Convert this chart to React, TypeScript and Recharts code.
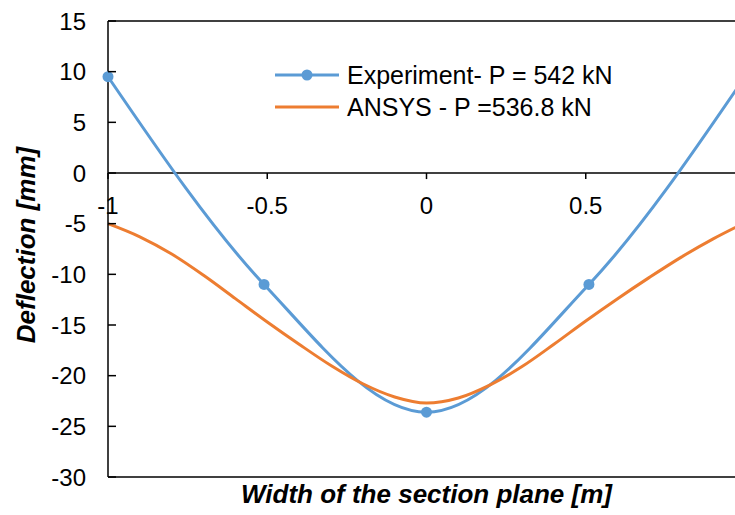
import React from 'react';
import { LineChart, Line, XAxis, YAxis, ReferenceLine, ReferenceDot, Legend } from 'recharts';

const font = '"Liberation Sans", Arial, Helvetica, sans-serif';

// Experiment (measured points)
const expX = [-1, -0.51, 0, 0.51, 1];
const expY = [9.5, -11, -23.6, -11, 9.5];

// ANSYS (FE curve)
const ansysX = [-1, -0.9, -0.8, -0.7, -0.6, -0.5, -0.4, -0.3, -0.2, -0.1, 0, 0.1, 0.2, 0.3, 0.4, 0.5, 0.6, 0.7, 0.8, 0.9, 1];
const ansysY = [-5.0, -6.3, -8.0, -10.1, -12.4, -14.7, -16.9, -19.0, -20.8, -22.1, -22.7, -22.2, -20.9, -19.1, -16.9, -14.6, -12.4, -10.3, -8.3, -6.5, -4.9];

const seriesNames = ['Experiment- P = 542 kN', 'ANSYS - P =536.8 kN'];

const xTicks = [-1, -0.5, 0, 0.5, 1];
const xTickLabels = [-1, -0.5, 0, 0.5]; // label at 1 falls outside the visible area
const yTicks = [-30, -25, -20, -15, -10, -5, 0, 5, 10, 15];

const experimentData = expX.map((x, i) => ({ x, y: expY[i] }));
const ansysData = ansysX.map((x, i) => ({ x, y: ansysY[i] }));

const BLUE = '#5B9BD5';
const ORANGE = '#ED7D31';

const YTick = (props: any) => {
  const { x, y, payload } = props;
  return (
    <g>
      <text x={x} y={y} dy="0.355em" textAnchor="end" fontSize={24} fill="#000" fontFamily={font}>
        {payload.value}
      </text>
      <line x1={x + 22} x2={x + 30} y1={y} y2={y} stroke="#000" strokeWidth={1.5} />
    </g>
  );
};

const YTitle = (props: any) => {
  const { viewBox } = props;
  const cx = viewBox.x + 26;
  const cy = viewBox.y + viewBox.height / 2 - 4;
  return (
    <text
      x={cx}
      y={cy}
      transform={`rotate(-90 ${cx} ${cy})`}
      textAnchor="middle"
      dominantBaseline="central"
      fontSize={26}
      fontWeight="bold"
      fontStyle="italic"
      fill="#000"
      fontFamily={font}
    >
      Deflection [mm]
    </text>
  );
};

const XTitle = (props: any) => {
  const { viewBox } = props;
  return (
    <text
      x={viewBox.x + viewBox.width / 2}
      y={viewBox.y + 26}
      textAnchor="middle"
      fontSize={26}
      fontWeight="bold"
      fontStyle="italic"
      fill="#000"
      fontFamily={font}
    >
      Width of the section plane [m]
    </text>
  );
};

const renderLegend = (props: any) => {
  const payload = [...(props.payload || [])].sort(
    (a: any, b: any) => seriesNames.indexOf(a.value) - seriesNames.indexOf(b.value)
  );
  return (
    <div style={{ fontFamily: font, fontSize: 25, color: '#000' }}>
      {payload.map((entry: any) => (
        <div key={entry.value} style={{ display: 'flex', alignItems: 'center', height: 32, whiteSpace: 'nowrap' }}>
          <svg width={64} height={14} style={{ marginRight: 8 }}>
            <line x1={0} y1={7} x2={64} y2={7} stroke={entry.color} strokeWidth={3} />
            {entry.type === 'line' && <circle cx={32} cy={7} r={5.5} fill={entry.color} />}
          </svg>
          <span>{entry.value}</span>
        </div>
      ))}
    </div>
  );
};

const App: React.FC = () => {
  return (
    <div style={{ position: 'fixed', left: 0, top: 0, width: 735, height: 515, overflow: 'hidden', background: '#fff' }}>
      <LineChart width={790} height={515} margin={{ top: 21, right: 45, left: 0, bottom: 0 }}>
        <XAxis
          type="number"
          dataKey="x"
          domain={[-1, 1]}
          ticks={xTicks}
          tick={false}
          tickLine={false}
          axisLine={{ stroke: '#000', strokeWidth: 1.5 }}
          height={38}
          label={<XTitle />}
        />
        <YAxis
          type="number"
          domain={[-30, 15]}
          ticks={yTicks}
          interval={0}
          width={108}
          tickLine={false}
          tickSize={0}
          tickMargin={22}
          tick={<YTick />}
          axisLine={{ stroke: '#000', strokeWidth: 1.5 }}
          label={<YTitle />}
        />
        <ReferenceLine y={15} stroke="#000" strokeWidth={1.5} />
        <ReferenceLine y={0} stroke="#000" strokeWidth={1.5} />
        {xTicks.map((t) => (
          <ReferenceLine
            key={`tk${t}`}
            segment={[{ x: t, y: 0 }, { x: t, y: -0.6 }]}
            stroke="#000"
            strokeWidth={1.5}
          />
        ))}
        {xTickLabels.map((t) => (
          <ReferenceDot
            key={`tl${t}`}
            x={t}
            y={0}
            r={0}
            fill="none"
            stroke="none"
            label={{ value: String(t), position: 'bottom', offset: 24, fill: '#000', fontSize: 24, fontFamily: font }}
          />
        ))}
        <Legend
          content={renderLegend}
          layout="vertical"
          align="center"
          verticalAlign="middle"
          wrapperStyle={{ left: 275, top: 59, width: 400 }}
        />
        <Line
          data={experimentData}
          dataKey="y"
          name={seriesNames[0]}
          type="monotone"
          stroke={BLUE}
          strokeWidth={3}
          dot={{ r: 5.5, fill: BLUE, stroke: BLUE, strokeWidth: 0 }}
          legendType="line"
          isAnimationActive={false}
        />
        <Line
          data={ansysData}
          dataKey="y"
          name={seriesNames[1]}
          type="monotone"
          stroke={ORANGE}
          strokeWidth={3}
          dot={false}
          legendType="plainline"
          isAnimationActive={false}
        />
      </LineChart>
    </div>
  );
};

export default App;
